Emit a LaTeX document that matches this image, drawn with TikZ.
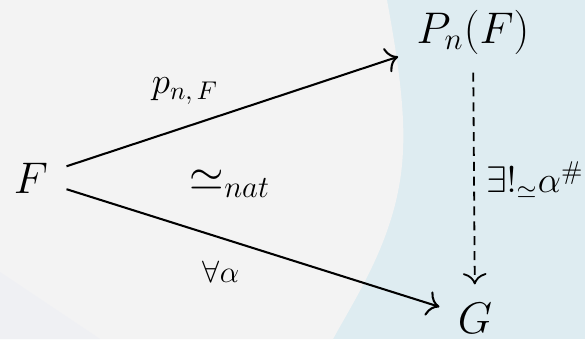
\documentclass[tikz,border=0pt]{standalone}
\usepackage{amsmath}
\usepackage{amssymb}
\usetikzlibrary{arrows.meta}
\definecolor{leftgray}{RGB}{243,243,243}
\definecolor{rightblue}{RGB}{222,236,241}
\definecolor{cornergray}{RGB}{239,240,243}

\begin{document}
\begin{tikzpicture}[x = 0.39pt, y = -0.39pt, font = \LARGE,
    obj/.style = {inner sep = 7pt},
    lbl/.style = {inner sep = 0pt},
    map/.style = {line width = 0.8pt, -{To[scale = 1.4]}}]
    % background
    \fill[rightblue] (0,0) rectangle (585,339);
    \fill[leftgray] (0,0) -- (387,0) .. controls (398,60) and (405,110) .. (403,150)
        .. controls (400,230) and (360,290) .. (333,339) -- (0,339) -- cycle;
    \fill[cornergray] (0,272) -- (100,339) -- (0,339) -- cycle;
    \useasboundingbox (0,0) rectangle (585,339);

    % objects
    \node[obj] (F) at (31,178) {$F$};
    \node[obj] (PnF) at (473,32) {$P_n(F)$};
    \node[obj] (G) at (475,318) {$G$};

    % maps
    \draw[map] (F) -- (PnF);
    \draw[map] (F) -- (G);
    \draw[map, line width = 0.7pt, dash pattern = on 3.5pt off 2.3pt] (PnF) -- (G);

    % labels
    \node[lbl, font = \Large] (pnF) at (185,91) {$p_{n,\,F}$};
    \node[lbl, font = \large] (alpha) at (221,272) {$\forall\alpha$};
    \node[lbl] (nat) at (230,184) {$\simeq_{nat}$};
    \node[lbl, font = \Large] (ex) at (535,180) {$\exists!_{\simeq}\alpha^{\#}$};
\end{tikzpicture}
\end{document}
